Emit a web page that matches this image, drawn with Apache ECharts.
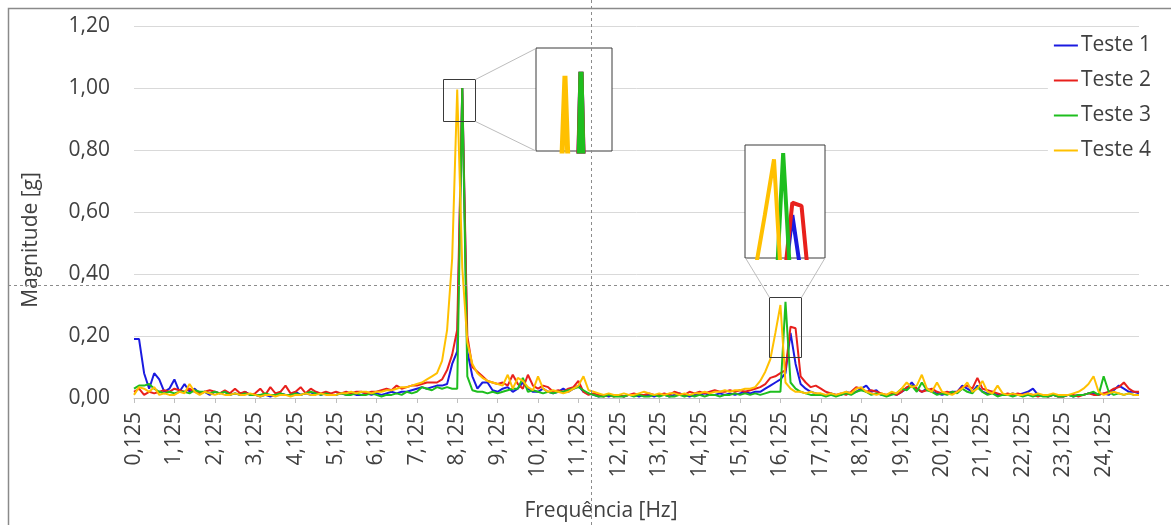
<!DOCTYPE html>
<html>
<head>
<meta charset="utf-8">
<script src="https://cdn.jsdelivr.net/npm/echarts@6/dist/echarts.min.js"></script>
<style>
html,body{margin:0;padding:0;background:#fff;}
#chart{width:1171px;height:525px;}
</style>
</head>
<body>
<div id="chart"></div>
<script>
// Frequency bins (Hz): 0.125 ... 25.0, step 0.125
const categories = Array.from({length: 200}, (_, i) => (i + 1) * 0.125);
const tickLabels = categories.map(f => f.toFixed(3).replace('.', ','));
const seriesNames = ['Teste 1', 'Teste 2', 'Teste 3', 'Teste 4'];
const yTicks = [0, 0.2, 0.4, 0.6, 0.8, 1.0, 1.2];

const teste1 = [
0.19,0.19,0.08,0.03,0.08,0.06,0.02,0.03,
0.06,0.02,0.045,0.02,0.03,0.015,0.02,0.01,
0.02,0.015,0.02,0.01,0.015,0.01,0.02,0.01,
0.01,0.005,0.01,0.005,0.01,0.015,0.01,0.01,
0.02,0.01,0.015,0.01,0.02,0.01,0.015,0.01,
0.01,0.015,0.01,0.015,0.01,0.01,0.015,0.01,
0.015,0.01,0.015,0.02,0.015,0.02,0.02,0.025,
0.03,0.035,0.03,0.035,0.04,0.04,0.045,0.11,
0.15,1.0,0.15,0.07,0.03,0.05,0.05,0.025,
0.02,0.03,0.035,0.02,0.03,0.05,0.03,0.02,
0.02,0.03,0.02,0.015,0.02,0.03,0.02,0.03,
0.04,0.02,0.015,0.01,0.005,0.01,0.005,0.01,
0.01,0.005,0.01,0.01,0.005,0.01,0.01,0.005,
0.01,0.01,0.005,0.01,0.015,0.01,0.005,0.01,
0.01,0.015,0.01,0.01,0.015,0.01,0.015,0.01,
0.015,0.02,0.015,0.02,0.02,0.03,0.04,0.05,
0.06,0.08,0.21,0.11,0.045,0.03,0.02,0.015,
0.01,0.01,0.015,0.01,0.01,0.02,0.015,0.02,
0.03,0.04,0.02,0.025,0.01,0.01,0.015,0.01,
0.02,0.03,0.05,0.03,0.02,0.03,0.02,0.015,
0.01,0.015,0.02,0.02,0.04,0.03,0.02,0.04,
0.02,0.015,0.02,0.01,0.01,0.01,0.015,0.01,
0.015,0.02,0.03,0.01,0.01,0.005,0.01,0.005,
0.005,0.01,0.005,0.01,0.01,0.015,0.015,0.01,
0.015,0.01,0.025,0.04,0.03,0.02,0.02,0.015
];
const teste2 = [
0.02,0.03,0.01,0.02,0.015,0.02,0.025,0.02,
0.03,0.025,0.02,0.03,0.02,0.015,0.02,0.025,
0.02,0.015,0.025,0.015,0.03,0.015,0.02,0.01,
0.015,0.03,0.01,0.035,0.015,0.02,0.04,0.015,
0.02,0.035,0.015,0.03,0.02,0.015,0.02,0.015,
0.02,0.015,0.02,0.015,0.02,0.02,0.015,0.02,
0.02,0.025,0.03,0.025,0.04,0.03,0.035,0.04,
0.04,0.045,0.05,0.05,0.05,0.06,0.09,0.14,
0.22,1.0,0.2,0.1,0.085,0.07,0.055,0.05,
0.045,0.05,0.04,0.075,0.045,0.03,0.075,0.04,
0.03,0.04,0.035,0.02,0.025,0.02,0.03,0.035,
0.055,0.02,0.01,0.015,0.01,0.005,0.01,0.005,
0.01,0.005,0.01,0.015,0.01,0.01,0.015,0.01,
0.01,0.015,0.01,0.02,0.015,0.01,0.02,0.015,
0.02,0.015,0.02,0.025,0.02,0.02,0.025,0.02,
0.025,0.02,0.025,0.03,0.035,0.045,0.065,0.07,
0.08,0.09,0.23,0.225,0.07,0.05,0.035,0.04,
0.03,0.02,0.015,0.01,0.015,0.01,0.02,0.035,
0.03,0.02,0.025,0.02,0.015,0.01,0.015,0.01,
0.02,0.035,0.04,0.03,0.02,0.025,0.03,0.02,
0.015,0.02,0.015,0.02,0.035,0.04,0.03,0.065,
0.03,0.025,0.02,0.015,0.01,0.015,0.01,0.015,
0.01,0.015,0.01,0.005,0.01,0.005,0.01,0.005,
0.005,0.01,0.01,0.005,0.01,0.015,0.01,0.01,
0.015,0.02,0.03,0.035,0.05,0.03,0.02,0.02
];
const teste3 = [
0.03,0.04,0.04,0.045,0.03,0.02,0.015,0.02,
0.015,0.02,0.02,0.015,0.025,0.02,0.02,0.015,
0.02,0.015,0.02,0.01,0.015,0.01,0.015,0.01,
0.01,0.01,0.015,0.01,0.01,0.015,0.01,0.01,
0.015,0.01,0.015,0.02,0.015,0.01,0.015,0.01,
0.01,0.015,0.01,0.01,0.015,0.01,0.01,0.015,
0.01,0.005,0.01,0.01,0.015,0.01,0.02,0.015,
0.02,0.035,0.03,0.025,0.035,0.03,0.035,0.03,
0.03,1.0,0.07,0.025,0.02,0.02,0.015,0.02,
0.015,0.02,0.025,0.03,0.03,0.065,0.02,0.025,
0.02,0.015,0.02,0.015,0.02,0.02,0.025,0.03,
0.035,0.025,0.015,0.01,0.005,0.005,0.01,0.005,
0.005,0.005,0.01,0.005,0.01,0.005,0.005,0.01,
0.005,0.01,0.005,0.005,0.01,0.005,0.01,0.005,
0.01,0.005,0.01,0.01,0.005,0.01,0.01,0.015,
0.01,0.015,0.01,0.015,0.01,0.015,0.02,0.02,
0.02,0.31,0.05,0.03,0.02,0.015,0.01,0.01,
0.01,0.005,0.01,0.005,0.01,0.015,0.01,0.02,
0.025,0.02,0.01,0.015,0.01,0.005,0.01,0.015,
0.03,0.025,0.04,0.02,0.05,0.025,0.02,0.01,
0.015,0.01,0.02,0.015,0.03,0.02,0.015,0.035,
0.02,0.01,0.015,0.005,0.01,0.01,0.005,0.01,
0.005,0.01,0.005,0.01,0.005,0.005,0.01,0.005,
0.005,0.01,0.005,0.01,0.01,0.015,0.02,0.01,
0.07,0.02,0.01,0.015,0.01,0.015,0.01,0.01
];
const teste4 = [
0.01,0.035,0.03,0.02,0.035,0.01,0.015,0.01,
0.01,0.02,0.015,0.045,0.02,0.01,0.02,0.015,
0.01,0.015,0.01,0.01,0.015,0.01,0.01,0.015,
0.01,0.005,0.01,0.01,0.005,0.01,0.01,0.005,
0.01,0.01,0.015,0.01,0.01,0.015,0.01,0.01,
0.01,0.015,0.015,0.02,0.015,0.02,0.02,0.015,
0.02,0.02,0.025,0.025,0.03,0.035,0.035,0.04,
0.045,0.05,0.06,0.07,0.08,0.12,0.22,0.45,
0.995,0.42,0.18,0.11,0.08,0.065,0.055,0.05,
0.045,0.04,0.075,0.03,0.065,0.055,0.035,0.025,
0.07,0.03,0.02,0.025,0.02,0.015,0.02,0.03,
0.04,0.07,0.025,0.02,0.015,0.01,0.015,0.01,
0.01,0.015,0.01,0.01,0.015,0.02,0.015,0.01,
0.015,0.01,0.015,0.015,0.01,0.015,0.01,0.015,
0.015,0.02,0.015,0.02,0.02,0.025,0.02,0.025,
0.025,0.03,0.03,0.035,0.055,0.085,0.125,0.21,
0.30,0.05,0.03,0.02,0.02,0.015,0.02,0.015,
0.015,0.01,0.015,0.01,0.015,0.02,0.015,0.03,
0.035,0.02,0.015,0.01,0.015,0.01,0.02,0.015,
0.03,0.05,0.035,0.04,0.075,0.03,0.02,0.05,
0.02,0.015,0.01,0.02,0.03,0.05,0.02,0.03,
0.055,0.02,0.015,0.04,0.015,0.01,0.015,0.01,
0.01,0.015,0.01,0.015,0.01,0.01,0.015,0.01,
0.01,0.01,0.015,0.02,0.03,0.045,0.07,0.02,
0.01,0.015,0.02,0.015,0.01,0.015,0.01,0.01
];

const allSeries = [teste1, teste2, teste3, teste4];
const colors = ['#1a1ae0', '#e8201c', '#1ebe1e', '#ffc000'];
const FONT = '"Open Sans", "DejaVu Sans", sans-serif';
const TXT = '#404040';

// Zoom windows (frequency range, magnitude range) for the two magnified insets
const zoomWindows = [
  {f: [7.899, 8.492], m: [0.90, 1.03], box: {left: 536, top: 48, width: 76, height: 103}, lw: 5},
  {f: [15.73, 16.82], m: [0.141, 0.323], box: {left: 745, top: 145, width: 80, height: 113}, lw: 4}
];

const grids = [{left: 134, right: 32, top: 26, bottom: 127, outerBoundsMode: 'none'}];
const xAxes = [{
  type: 'category', data: tickLabels, boundaryGap: false, gridIndex: 0,
  axisLine: {lineStyle: {color: '#bfbfbf', width: 1}},
  axisTick: {show: true, interval: 7, length: 5, lineStyle: {color: '#bfbfbf'}},
  axisLabel: {interval: 7, rotate: 90, margin: 14, color: TXT, fontSize: 21, fontFamily: FONT},
  splitLine: {show: false}
}];
const yAxes = [{
  type: 'value', min: 0, max: 1.2, interval: 0.2, gridIndex: 0,
  axisLine: {show: false}, axisTick: {show: false},
  axisLabel: {margin: 24, color: TXT, fontSize: 21, fontFamily: FONT,
    formatter: v => v.toFixed(2).replace('.', ',')},
  splitLine: {lineStyle: {color: '#d9d9d9', width: 1}}
}];
const series = [];
seriesNames.forEach((name, k) => {
  series.push({
    name: name, type: 'line', xAxisIndex: 0, yAxisIndex: 0,
    data: allSeries[k], symbol: 'none', showSymbol: false,
    lineStyle: {color: colors[k], width: 2}, itemStyle: {color: colors[k]},
    animation: false, z: 2
  });
});
zoomWindows.forEach((w, gi) => {
  const idx = gi + 1;
  grids.push(Object.assign({show: true, backgroundColor: '#ffffff', borderColor: '#3a3a3a', borderWidth: 1, z: 5, outerBoundsMode: 'none'}, w.box));
  xAxes.push({type: 'value', gridIndex: idx, min: w.f[0], max: w.f[1], show: false, splitLine: {show: false}});
  yAxes.push({type: 'value', gridIndex: idx, min: w.m[0], max: w.m[1], show: false, splitLine: {show: false}});
  seriesNames.forEach((name, k) => {
    series.push({
      name: name + ' (zoom)', type: 'line', xAxisIndex: idx, yAxisIndex: idx,
      data: allSeries[k].map((v, i) => [categories[i], v]),
      symbol: 'none', showSymbol: false, clip: true,
      lineStyle: {color: colors[k], width: w.lw}, itemStyle: {color: colors[k]},
      animation: false, z: 6, legendHoverLink: false
    });
  });
});

const chart = echarts.init(document.getElementById('chart'), null, {renderer: 'canvas'});
chart.setOption({
  animation: false,
  backgroundColor: '#ffffff',
  grid: grids, xAxis: xAxes, yAxis: yAxes, series: series,
  legend: {
    data: seriesNames, orient: 'vertical', right: 14, top: 29,
    backgroundColor: '#ffffff', padding: [4, 6, 4, 6],
    icon: 'rect', itemWidth: 24, itemHeight: 2, itemGap: 10,
    textStyle: {color: TXT, fontSize: 21, fontFamily: FONT, lineHeight: 25, padding: [0, 0, 0, -2]}
  },
  graphic: [
    {type: 'rect', z: 50, silent: true, shape: {x: 8.5, y: 8.5, width: 1200, height: 600}, style: {fill: 'none', stroke: '#8a8a8a', lineWidth: 1.5}},
    {type: 'text', z: 50, silent: true, x: 601, y: 511, style: {text: 'Frequência [Hz]', font: '21px "Open Sans", sans-serif', fill: TXT, textAlign: 'center', textVerticalAlign: 'middle'}},
    {type: 'text', z: 50, silent: true, x: 31, y: 240, rotation: Math.PI / 2, style: {text: 'Magnitude [g]', font: '21px "Open Sans", sans-serif', fill: TXT, textAlign: 'center', textVerticalAlign: 'middle'}},
    // zoom source boxes
    {type: 'rect', z: 60, silent: true, shape: {x: 443.5, y: 79.5, width: 32, height: 42}, style: {fill: 'none', stroke: '#3a3a3a', lineWidth: 1}},
    {type: 'rect', z: 60, silent: true, shape: {x: 769.5, y: 297.5, width: 32, height: 60}, style: {fill: 'none', stroke: '#3a3a3a', lineWidth: 1}},
    // connector lines
    {type: 'line', z: 60, silent: true, shape: {x1: 475.5, y1: 79.5, x2: 536, y2: 48.5}, style: {stroke: '#bdbdbd', lineWidth: 1}},
    {type: 'line', z: 60, silent: true, shape: {x1: 475.5, y1: 121.5, x2: 536, y2: 151}, style: {stroke: '#bdbdbd', lineWidth: 1}},
    {type: 'line', z: 60, silent: true, shape: {x1: 769.5, y1: 297.5, x2: 745.5, y2: 258}, style: {stroke: '#bdbdbd', lineWidth: 1}},
    {type: 'line', z: 60, silent: true, shape: {x1: 801.5, y1: 297.5, x2: 825, y2: 258}, style: {stroke: '#bdbdbd', lineWidth: 1}},
    // dashed crosshair guides
    {type: 'line', z: 80, silent: true, shape: {x1: 591.5, y1: 0, x2: 591.5, y2: 525}, style: {stroke: '#8c8c8c', lineWidth: 1, lineDash: [3, 3]}},
    {type: 'line', z: 80, silent: true, shape: {x1: 8, y1: 285.5, x2: 1171, y2: 285.5}, style: {stroke: '#8c8c8c', lineWidth: 1, lineDash: [3, 3]}}
  ]
});
</script>
</body>
</html>
